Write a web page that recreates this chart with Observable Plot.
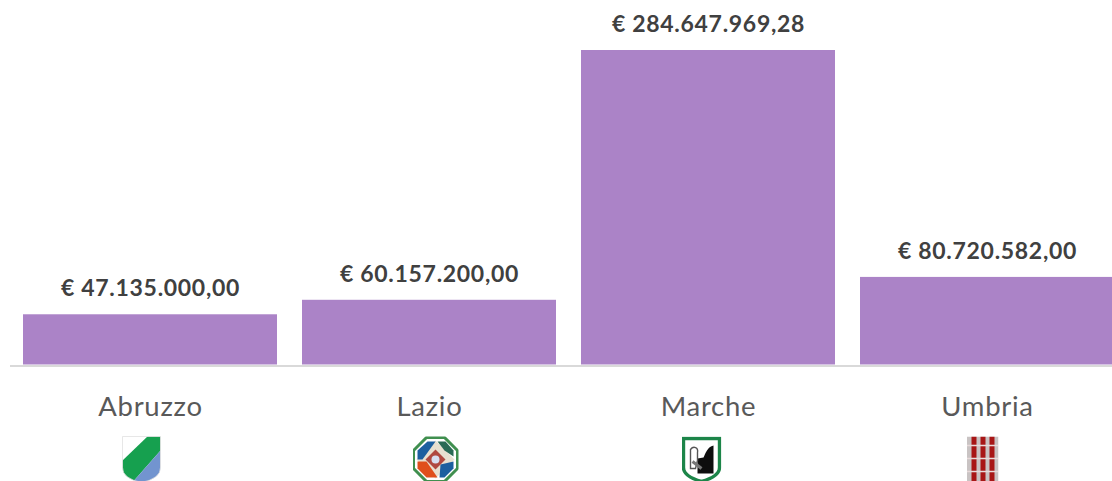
<!DOCTYPE html>
<html><head><meta charset="utf-8">
<script src="https://cdn.jsdelivr.net/npm/d3@7"></script>
<script src="https://cdn.jsdelivr.net/npm/@observablehq/plot@0.6"></script>
<style>html,body{margin:0;padding:0;background:#fff;overflow:hidden}svg{display:block}</style>
</head><body><div id="chart"></div>
<script>
const regions = ["Abruzzo","Lazio","Marche","Umbria"];
const values = [47135000.00, 60157200.00, 284647969.28, 80720582.00];
const labels = ["€ 47.135.000,00","€ 60.157.200,00","€ 284.647.969,28","€ 80.720.582,00"];
const rows = regions.map((region,i)=>({region,value:values[i],label:labels[i]}));

const svgUri = (w,h,body)=>"data:image/svg+xml,"+encodeURIComponent(
  `<svg xmlns="http://www.w3.org/2000/svg" viewBox="0 0 ${w} ${h}" width="${w}" height="${h}"><defs><filter id="b" x="-10%" y="-10%" width="120%" height="120%"><feGaussianBlur stdDeviation="0.6"/></filter></defs><g filter="url(#b)">${body}</g></svg>`);
const shield = "M1 1H39V32Q39 43 20 47Q1 43 1 32Z";
const emblems = {
  Abruzzo:{dx:-9,w:40,h:48,src:svgUri(40,48,`<clipPath id="s"><path d="${shield}"/></clipPath><g clip-path="url(#s)"><rect width="40" height="48" fill="#fff"/><path d="M0 26L27 0H40V14L10 48H0Z" fill="#16a04f"/><path d="M40 14V48H10Z" fill="#7294cf"/></g><path d="${shield}" fill="none" stroke="#ddd" stroke-width=".7"/>`)},
  Lazio:{dx:6,w:46,h:46,src:svgUri(46,46,`<path d="M14 1H32L45 14V32L32 45H14L1 32V14Z" fill="#fff" stroke="#3f8f4f" stroke-width="3"/><path d="M23 4L42 23L23 42L4 23Z" fill="#e8e0d0"/><path d="M15 5H23L10 23H5V14Z" fill="#1f5f9f"/><path d="M25 5H33L41 14V20L32 14Z" fill="#2a6a55"/><path d="M5 25H14L25 41H14L5 32Z" fill="#e0501f"/><path d="M28 28L41 25V32L32 41H27Z" fill="#1f5f9f"/><path d="M23 13L33 23L23 33L13 23Z" fill="#b04a40"/><circle cx="23" cy="23" r="4" fill="#d8dff0"/>`)},
  Marche:{dx:-7,w:40,h:46,src:svgUri(40,46,`<path d="M2 2H38V31Q38 40 20 45Q2 40 2 31Z" fill="#fff" stroke="#1e8548" stroke-width="3.4"/><path d="M32 9C26 10 24 17 22 21L16 22V37H32Z" fill="#111"/><path d="M9 13C12 9 17 11 16 16V24L14 32H9Z" fill="#fff" stroke="#555" stroke-width="1.4"/><path d="M11 25L20 32" stroke="#777" stroke-width="3"/>`)},
  Umbria:{dx:-5,w:32,h:46,src:svgUri(32,46,`<rect width="32" height="46" fill="#c9c3c3"/><rect x="5" width="5" height="46" fill="#a81818"/><rect x="14" width="5" height="46" fill="#a81818"/><rect x="23" width="5" height="46" fill="#a81818"/><path d="M0 9H32M0 22H32M0 35H32" stroke="#e8dada" stroke-width="1.4"/>`)}
};

const iconMarks = regions.map(r=>{
  const e = emblems[r];
  return Plot.image([r],{x:d=>d,y:()=>2000000,src:e.src,width:e.w,height:e.h,dx:e.dx,dy:94.5});
});

const plot = Plot.plot({
  width:1112, height:481,
  marginTop:50, marginBottom:116.5, marginLeft:10, marginRight:0,
  style:{background:"#fff",fontFamily:"Lato",letterSpacing:"0.7px"},
  x:{domain:regions,range:[9.9,1127.1],paddingInner:0.09,paddingOuter:0.045,label:null},
  y:{domain:[2000000,d3.max(values)],clamp:true,label:null,axis:null},
  marks:[
    Plot.barY(rows,{x:"region",y:"value",fill:"#ab83c7"}),
    Plot.ruleY([2000000],{stroke:"#d9d9d9",strokeWidth:2,dy:1}),
    Plot.axisX({tickSize:0,tickPadding:31,fontSize:27.5,fill:"#595959",label:null,anchor:"bottom"}),
    Plot.text(rows,{x:"region",y:"value",text:"label",dy:-26,fontSize:23,fontWeight:700,fill:"#404040"}),
    ...iconMarks
  ]
});
document.getElementById("chart").append(plot);
</script></body></html>
